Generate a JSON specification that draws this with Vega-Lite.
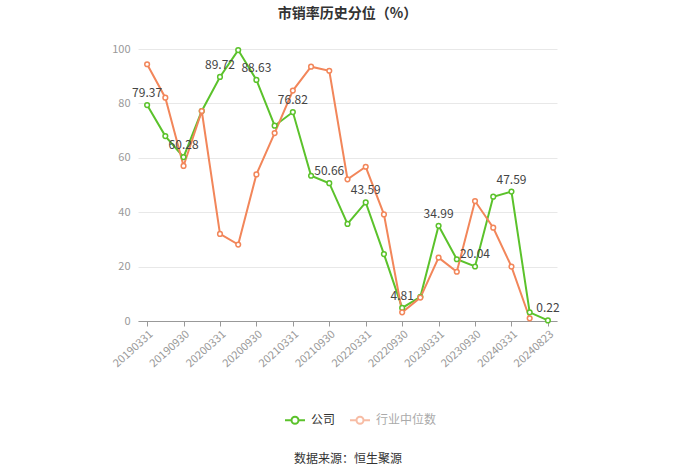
{
  "$schema": "https://vega.github.io/schema/vega-lite/v6.json",
  "width": 419,
  "height": 272,
  "autosize": "none",
  "padding": {"left": 138, "top": 49, "right": 143, "bottom": 153},
  "background": "white",
  "config": {"font": "Noto Sans CJK SC", "view": {"stroke": null}},
  "title": {"text": "市销率历史分位（%）", "fontSize": 14, "fontWeight": "bold", "color": "#333333", "offset": 22, "anchor": "middle"},
  "datasets": {
    "main": [
      {"date": "20190331", "series": "公司", "value": 79.37},
      {"date": "20190630", "series": "公司", "value": 68.0},
      {"date": "20190930", "series": "公司", "value": 60.28},
      {"date": "20191231", "series": "公司", "value": 77.2},
      {"date": "20200331", "series": "公司", "value": 89.72},
      {"date": "20200630", "series": "公司", "value": 99.6},
      {"date": "20200930", "series": "公司", "value": 88.63},
      {"date": "20201231", "series": "公司", "value": 71.8},
      {"date": "20210331", "series": "公司", "value": 76.82},
      {"date": "20210630", "series": "公司", "value": 53.4},
      {"date": "20210930", "series": "公司", "value": 50.66},
      {"date": "20211231", "series": "公司", "value": 35.7},
      {"date": "20220331", "series": "公司", "value": 43.59},
      {"date": "20220630", "series": "公司", "value": 24.6},
      {"date": "20220930", "series": "公司", "value": 4.81},
      {"date": "20221231", "series": "公司", "value": 8.9},
      {"date": "20230331", "series": "公司", "value": 34.99},
      {"date": "20230630", "series": "公司", "value": 22.7},
      {"date": "20230930", "series": "公司", "value": 20.04},
      {"date": "20231231", "series": "公司", "value": 45.7},
      {"date": "20240331", "series": "公司", "value": 47.59},
      {"date": "20240630", "series": "公司", "value": 3.2},
      {"date": "20240823", "series": "公司", "value": 0.22},
      {"date": "20190331", "series": "行业中位数", "value": 94.4},
      {"date": "20190630", "series": "行业中位数", "value": 82.1},
      {"date": "20190930", "series": "行业中位数", "value": 57.0},
      {"date": "20191231", "series": "行业中位数", "value": 77.2},
      {"date": "20200331", "series": "行业中位数", "value": 32.0},
      {"date": "20200630", "series": "行业中位数", "value": 28.1},
      {"date": "20200930", "series": "行业中位数", "value": 53.9},
      {"date": "20201231", "series": "行业中位数", "value": 69.1},
      {"date": "20210331", "series": "行业中位数", "value": 84.7},
      {"date": "20210630", "series": "行业中位数", "value": 93.5},
      {"date": "20210930", "series": "行业中位数", "value": 92.0},
      {"date": "20211231", "series": "行业中位数", "value": 52.1},
      {"date": "20220331", "series": "行业中位数", "value": 56.7},
      {"date": "20220630", "series": "行业中位数", "value": 39.2},
      {"date": "20220930", "series": "行业中位数", "value": 3.2},
      {"date": "20221231", "series": "行业中位数", "value": 8.6},
      {"date": "20230331", "series": "行业中位数", "value": 23.3},
      {"date": "20230630", "series": "行业中位数", "value": 18.1},
      {"date": "20230930", "series": "行业中位数", "value": 44.1},
      {"date": "20231231", "series": "行业中位数", "value": 34.3},
      {"date": "20240331", "series": "行业中位数", "value": 20.0},
      {"date": "20240630", "series": "行业中位数", "value": 1.0}
    ]
  },
  "data": {"name": "main"},
  "encoding": {
    "x": {
      "field": "date", "type": "ordinal", "sort": null,
      "scale": {"type": "point", "padding": 0.5},
      "axis": {
        "values": ["20190331", "20190930", "20200331", "20200930", "20210331", "20210930", "20220331", "20220930", "20230331", "20230930", "20240331", "20240823"],
        "labelAngle": -42, "labelFontSize": 11, "labelColor": "#999999",
        "domainColor": "#999999", "tickColor": "#999999", "tickSize": 5,
        "labelPadding": 2,
        "title": "数据来源：恒生聚源", "titleFontSize": 12, "titleFontWeight": "normal",
        "titleColor": "#333333", "titleY": 137, "titleBaseline": "middle", "titleX": 209.5, "titleAnchor": "middle"
      }
    },
    "y": {
      "field": "value", "type": "quantitative",
      "scale": {"domain": [0, 100], "nice": false},
      "axis": {
        "values": [0, 20, 40, 60, 80, 100], "title": null, "domain": false, "ticks": false,
        "labelColor": "#999999", "labelFontSize": 11, "labelPadding": 8,
        "gridColor": "#e8e8e8"
      }
    }
  },
  "layer": [
    {
      "mark": {"type": "line", "strokeWidth": 2, "point": {"filled": false, "fill": "white", "size": 22, "strokeWidth": 1.5}},
      "encoding": {
        "color": {
          "field": "series", "type": "nominal",
          "scale": {"domain": ["公司", "行业中位数"], "range": ["#5bc22b", "#f2865a"]},
          "legend": {
            "orient": "none", "legendX": 146, "legendY": 360, "direction": "horizontal",
            "title": null, "labelFontSize": 12, "labelColor": "#333333", "labelOffset": 5,
            "columnPadding": 10,
            "symbolType": "M-1,0L-0.35,0M0.35,0L1,0M0.35,0A0.35,0.35,0,1,1,-0.35,0A0.35,0.35,0,1,1,0.35,0",
            "symbolSize": 400, "symbolStrokeWidth": 2, "symbolFillColor": "white",
            "encode": {
              "labels": {"update": {"fill": {"signal": "datum.value == '公司' ? '#333333' : '#aaaaaa'"}}},
              "symbols": {"update": {"opacity": {"signal": "datum.value == '公司' ? 1 : 0.55"}}}
            }
          }
        }
      }
    },
    {
      "transform": [
        {"filter": "datum.series == '公司' && indexof(['20190331','20190930','20200331','20200930','20210331','20210930','20220331','20220930','20230331','20230930','20240331','20240823'], datum.date) >= 0"}
      ],
      "mark": {"type": "text", "dy": -12, "fontSize": 12, "color": "#444444"},
      "encoding": {"text": {"field": "value", "type": "quantitative", "format": ".2f"}}
    }
  ]
}
